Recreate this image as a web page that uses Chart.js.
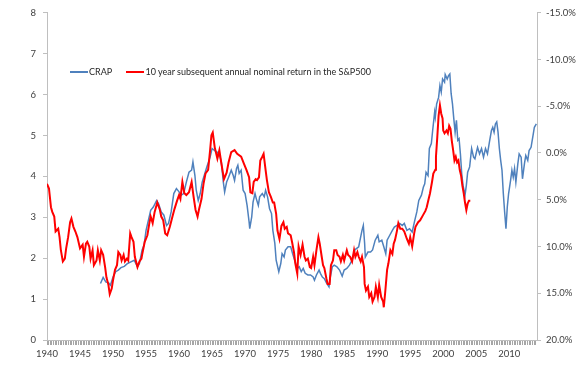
<!DOCTYPE html>
<html>
<head>
<meta charset="utf-8">
<script src="https://cdn.jsdelivr.net/npm/chart.js@4"></script>
<style>
  html, body { margin: 0; padding: 0; background: #ffffff; }
  #wrap { position: relative; width: 577px; height: 377px; }
  #legend { position: absolute; left: 70px; top: 66px; font: 9px Lato, "Open Sans", sans-serif; color: #262626; white-space: nowrap; }
  #legend span.item { display: inline-block; margin-right: 12px; }
  #legend i { display: inline-block; width: 18px; height: 0; vertical-align: middle; margin-right: 1px; position: relative; top: -1px; }
</style>
</head>
<body>
<div id="wrap">
  <canvas id="chart" width="577" height="377"></canvas>
  <div id="legend">
    <span class="item"><i style="border-top: 2px solid #4F81BD"></i>CRAP</span>
    <span class="item"><i style="border-top: 2px solid #FF0000"></i>10 year subsequent annual nominal return in the S&amp;P500</span>
  </div>
</div>
<script>
// CRAP (left axis)
const crapYears = [1948.1,1948.5,1948.9,1949.3,1949.6,1950.0,1950.4,1950.8,1951.2,1951.7,1952.2,1952.7,1953.2,1953.7,1954.0,1954.4,1954.7,1955.0,1955.7,1956.1,1956.6,1956.9,1957.3,1957.7,1958.1,1958.4,1958.8,1959.2,1959.6,1960.0,1960.3,1960.7,1961.1,1961.5,1961.9,1962.1,1962.4,1962.6,1962.9,1963.2,1963.5,1963.9,1964.2,1964.7,1965.0,1965.4,1965.8,1966.2,1966.4,1966.7,1966.9,1967.2,1967.5,1967.9,1968.2,1968.4,1968.7,1968.9,1969.1,1969.4,1969.7,1970.0,1970.3,1970.6,1970.7,1971.0,1971.2,1971.5,1971.7,1972.0,1972.2,1972.6,1972.9,1973.1,1973.4,1973.7,1974.0,1974.2,1974.5,1974.7,1975.1,1975.4,1975.6,1975.9,1976.1,1976.5,1976.9,1977.2,1977.5,1977.9,1978.2,1978.5,1978.8,1979.1,1979.5,1979.9,1980.3,1980.5,1980.8,1981.2,1981.4,1981.7,1982.0,1982.3,1982.7,1982.9,1983.2,1983.5,1983.9,1984.3,1984.7,1985.0,1985.4,1985.8,1986.2,1986.6,1986.9,1987.2,1987.5,1987.7,1987.9,1988.1,1988.2,1988.6,1989.0,1989.3,1989.7,1990.1,1990.3,1990.7,1991.0,1991.3,1991.5,1991.9,1992.3,1992.6,1993.0,1993.4,1993.8,1994.1,1994.5,1994.9,1995.3,1995.7,1996.0,1996.3,1996.7,1997.0,1997.2,1997.4,1997.7,1997.9,1998.2,1998.4,1998.7,1998.8,1999.0,1999.3,1999.5,1999.7,1999.9,2000.2,2000.3,2000.6,2000.8,2001.0,2001.2,2001.4,2001.6,2001.8,2002.0,2002.2,2002.4,2002.6,2002.8,2003.0,2003.3,2003.5,2003.7,2004.0,2004.3,2004.6,2004.8,2005.2,2005.5,2005.8,2006.1,2006.4,2006.7,2007.0,2007.3,2007.5,2007.7,2007.9,2008.1,2008.3,2008.5,2008.7,2008.9,2009.1,2009.3,2009.5,2009.7,2009.9,2010.2,2010.4,2010.6,2010.8,2011.0,2011.3,2011.5,2011.8,2012.0,2012.3,2012.5,2012.8,2013.0,2013.3,2013.6,2013.8,2014.1];
const crapValues = [1.38,1.53,1.42,1.40,1.34,1.54,1.67,1.71,1.77,1.80,1.87,1.91,1.95,1.79,1.87,2.20,2.32,2.68,3.17,3.25,3.41,3.33,3.13,3.05,2.80,2.85,3.13,3.58,3.70,3.62,3.54,3.58,3.86,4.10,4.15,4.35,4.02,3.66,3.41,3.58,3.86,4.07,4.23,4.47,4.68,4.63,4.59,4.47,4.35,3.86,3.62,3.86,3.98,4.15,4.02,3.90,4.19,4.27,4.07,4.15,3.66,3.58,3.29,2.89,2.72,3.01,3.37,3.58,3.45,3.29,3.50,3.58,3.50,3.66,3.50,3.21,3.09,2.68,2.36,1.95,1.67,1.87,2.11,2.03,2.20,2.28,2.28,2.11,1.95,1.75,1.79,1.67,1.75,1.63,1.59,1.59,1.54,1.46,1.59,1.71,1.63,1.54,1.50,1.40,1.30,1.54,1.79,1.83,1.79,1.71,1.56,1.71,1.75,1.83,1.95,2.20,2.24,2.28,2.52,2.68,2.80,2.36,2.03,2.15,2.15,2.20,2.44,2.56,2.40,2.44,2.28,2.11,2.44,2.56,2.68,2.76,2.80,2.85,2.80,2.85,2.68,2.72,2.64,2.93,3.13,3.41,3.54,3.74,3.82,4.10,4.02,4.68,4.80,5.12,5.57,5.45,5.77,5.93,6.22,6.06,6.38,6.30,6.49,6.38,6.46,6.50,6.02,5.77,5.41,5.08,5.37,4.88,4.92,4.55,4.07,3.78,3.54,3.78,4.10,4.23,4.68,4.47,4.43,4.71,4.55,4.68,4.47,4.68,4.55,4.84,5.12,5.20,5.08,5.28,5.33,5.08,4.68,4.39,4.15,3.58,3.13,2.72,3.25,3.58,3.90,4.15,3.98,4.19,3.86,4.31,4.55,4.47,3.94,4.31,4.51,4.39,4.63,4.71,5.00,5.20,5.28];

// 10 year subsequent annual nominal return, % (right axis, inverted)
const returnYears = [1940.0,1940.3,1940.6,1940.8,1941.1,1941.3,1941.7,1941.9,1942.1,1942.4,1942.7,1942.9,1943.2,1943.5,1943.7,1944.0,1944.3,1944.6,1945.0,1945.4,1945.6,1945.9,1946.1,1946.4,1946.6,1946.9,1947.1,1947.5,1947.7,1948.0,1948.2,1948.5,1948.8,1949.0,1949.3,1949.5,1949.8,1950.0,1950.3,1950.6,1950.8,1951.1,1951.3,1951.6,1951.8,1952.1,1952.3,1952.6,1952.8,1953.1,1953.3,1953.7,1954.0,1954.3,1954.4,1954.8,1955.2,1955.5,1955.7,1956.0,1956.3,1956.7,1957.1,1957.3,1957.6,1957.9,1958.2,1958.6,1959.0,1959.3,1959.7,1960.0,1960.2,1960.5,1960.8,1961.1,1961.5,1961.9,1962.2,1962.5,1962.8,1963.0,1963.4,1963.7,1964.0,1964.4,1964.7,1964.9,1965.1,1965.4,1965.8,1966.1,1966.4,1966.8,1967.2,1967.5,1967.9,1968.4,1968.8,1969.4,1969.8,1970.2,1970.6,1970.8,1971.1,1971.3,1971.6,1971.8,1972.1,1972.3,1972.6,1972.8,1973.1,1973.3,1973.6,1973.9,1974.2,1974.4,1974.7,1974.9,1975.2,1975.5,1975.8,1976.0,1976.3,1976.5,1976.9,1977.1,1977.4,1977.6,1977.9,1978.1,1978.4,1978.7,1979.0,1979.2,1979.5,1979.8,1980.0,1980.3,1980.5,1980.8,1981.1,1981.3,1981.6,1981.8,1982.0,1982.3,1982.5,1982.8,1983.0,1983.3,1983.5,1983.8,1984.0,1984.3,1984.5,1984.8,1985.0,1985.4,1985.6,1985.9,1986.2,1986.5,1986.7,1987.0,1987.2,1987.5,1987.7,1988.0,1988.1,1988.3,1988.6,1988.8,1989.1,1989.3,1989.6,1989.8,1990.1,1990.3,1990.6,1990.9,1991.0,1991.2,1991.5,1991.7,1992.0,1992.3,1992.5,1992.7,1993.0,1993.2,1993.5,1993.8,1994.1,1994.5,1994.8,1995.0,1995.3,1995.6,1995.8,1996.2,1996.5,1996.9,1997.3,1997.5,1997.8,1998.0,1998.3,1998.5,1998.8,1998.9,1999.1,1999.3,1999.5,1999.7,1999.9,2000.0,2000.2,2000.5,2000.7,2000.9,2001.1,2001.3,2001.5,2001.7,2001.9,2002.1,2002.3,2002.5,2002.7,2002.9,2003.1,2003.3,2003.5,2003.7,2003.9,2004.1];
const returnValues = [3.3,3.8,5.8,6.3,6.8,8.4,8.1,9.0,10.4,11.6,11.3,10.2,9.0,7.4,7.0,7.9,8.4,9.0,10.2,9.8,11.1,9.7,9.5,10.0,11.3,10.4,12.0,11.5,10.4,11.5,10.4,10.9,12.2,13.3,14.1,15.1,14.5,13.6,12.5,12.0,10.6,10.9,11.5,10.9,11.6,11.3,11.5,8.6,9.0,9.5,11.1,12.2,11.6,11.3,10.9,9.5,8.8,7.5,6.8,7.5,6.3,5.3,6.1,6.8,7.2,8.6,8.8,7.9,6.8,6.0,5.1,4.5,4.9,3.1,4.3,4.5,4.2,3.1,4.7,6.1,6.8,6.1,4.9,3.3,2.2,1.8,-0.3,-1.9,-2.2,-0.6,0.6,-0.3,1.1,2.8,2.1,1.0,-0.1,-0.3,0.1,0.4,1.1,1.8,2.6,4.2,4.3,3.1,2.8,2.9,2.6,0.8,0.4,0.1,1.8,2.9,4.2,4.7,5.3,5.3,6.5,8.3,9.2,7.8,7.4,8.1,7.9,8.6,8.8,9.5,10.6,11.8,12.9,10.0,10.9,9.8,11.1,11.5,11.3,12.2,12.3,11.1,12.0,10.4,9.0,9.7,11.1,12.0,12.3,13.4,14.0,14.0,12.0,11.5,10.4,10.4,10.9,11.1,11.6,10.9,11.5,10.4,10.9,11.1,11.6,10.4,11.1,10.6,11.1,11.6,11.1,12.2,14.0,14.7,14.3,15.4,15.0,15.9,15.4,14.3,15.4,14.1,15.4,15.9,16.5,15.0,12.5,11.8,10.4,10.8,9.7,9.3,8.3,7.5,8.1,8.1,8.4,9.2,9.7,9.0,10.0,8.6,7.9,7.4,7.2,6.7,6.2,5.8,4.9,4.3,3.1,2.2,1.8,0.4,-1.7,-4.0,-5.1,-4.2,-3.7,-2.4,-2.1,-2.4,-2.1,-2.9,-2.6,-1.3,-0.3,0.8,0.4,1.0,0.8,1.8,2.4,3.5,4.3,5.3,6.1,5.4,5.1,5.1];

const leftTicks = [0, 1, 2, 3, 4, 5, 6, 7, 8];
const rightTicks = [-15, -10, -5, 0, 5, 10, 15, 20];
const yearLabels = [1940, 1945, 1950, 1955, 1960, 1965, 1970, 1975, 1980, 1985, 1990, 1995, 2000, 2005, 2010];

const axisColor = '#BFBFBF';
const labelColor = '#404040';
const tickFont = { family: 'Lato, "Open Sans", sans-serif', size: 9.5 };

const crapPoints = crapYears.map((x, i) => ({ x: x, y: crapValues[i] }));
const returnPoints = returnYears.map((x, i) => ({ x: x, y: returnValues[i] }));

new Chart(document.getElementById('chart').getContext('2d'), {
    type: 'line',
    data: {
        datasets: [{
            label: '10 year subsequent annual nominal return in the S&P500',
            data: returnPoints,
            yAxisID: 'yRight',
            borderColor: '#FF0000',
            borderWidth: 2,
            pointRadius: 0,
            tension: 0
        }, {
            label: 'CRAP',
            data: crapPoints,
            yAxisID: 'yLeft',
            borderColor: '#4F81BD',
            borderWidth: 1.5,
            pointRadius: 0,
            tension: 0
        }]
    },
    options: {
        responsive: false,
        animation: false,
        layout: { padding: { top: 12, left: 0, right: 0, bottom: 0 } },
        scales: {
            x: {
                type: 'linear',
                min: 1940,
                max: 2014.2,
                afterFit: s => { s.height = 37; },
                afterBuildTicks: s => {
                    const t = [];
                    for (let i = 0; i <= 296; i++) t.push({ value: 1940 + i * 0.25 });
                    s.ticks = t;
                },
                ticks: {
                    autoSkip: false,
                    maxRotation: 0,
                    color: labelColor,
                    font: tickFont,
                    padding: 3,
                    callback: v => {
                        const r = Math.round(v);
                        return (Math.abs(v - r) < 1e-6 && yearLabels.includes(r)) ? String(r) : '';
                    }
                },
                grid: { drawOnChartArea: false, color: '#A6A6A6', tickLength: 5 },
                border: { display: true, color: axisColor }
            },
            yLeft: {
                position: 'left',
                min: 0,
                max: 8,
                afterFit: s => { s.width = 47; },
                afterBuildTicks: s => { s.ticks = leftTicks.map(v => ({ value: v })); },
                ticks: { color: labelColor, font: tickFont, padding: 7 },
                grid: { drawOnChartArea: false, color: axisColor, tickLength: 4 },
                border: { display: true, color: axisColor }
            },
            yRight: {
                position: 'right',
                reverse: true,
                min: -15,
                max: 20,
                afterFit: s => { s.width = 40; },
                afterBuildTicks: s => { s.ticks = rightTicks.map(v => ({ value: v })); },
                ticks: { color: labelColor, font: tickFont, padding: 5, callback: v => v.toFixed(1) + '%' },
                grid: { drawOnChartArea: false, color: axisColor, tickLength: 4 },
                border: { display: true, color: axisColor }
            }
        },
        plugins: {
            legend: { display: false },
            tooltip: { enabled: false }
        }
    }
});
</script>
</body>
</html>
